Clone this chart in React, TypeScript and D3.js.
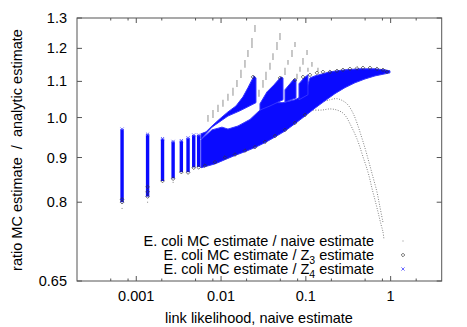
import React from "react";
import * as d3 from "d3";

const W = 467;
const H = 327;
const PLOT = { left: 77, right: 441.7, top: 18, bottom: 281 };

// ---------- axes ----------
const xDomain = [0.0002, 4];
const yDomain = [0.65, 1.3];
const xMajorTicks = [0.001, 0.01, 0.1, 1];
const xMajorLabels = ["0.001", "0.01", "0.1", "1"];
const xMinorTicks = [0.0005, 0.0008, 0.002, 0.005, 0.008, 0.02, 0.05, 0.08, 0.2, 0.5, 0.8, 2];
const yTicks = [0.65, 0.8, 0.9, 1.0, 1.1, 1.2, 1.3];
const yTickLabels = ["0.65", "0.8", "0.9", "1.0", "1.1", "1.2", "1.3"];

// ---------- series: E. coli MC / Z4 (blue x) ----------
// discrete columns at small likelihood
const z4ColX = [0.00068, 0.00136, 0.00204, 0.00272, 0.0034, 0.00408, 0.00476, 0.00544];
const z4ColLo = [0.8, 0.812, 0.846, 0.852, 0.866, 0.866, 0.877, 0.878];
const z4ColHi = [0.97, 0.957, 0.946, 0.939, 0.941, 0.948, 0.955, 0.955];
// dense region outlines (x, ratio)
const z4BandLow: [number, number][] = [
  [0.0058, 0.943], [0.00781, 0.968], [0.01025, 0.975], [0.01206, 0.97], [0.01583, 0.978],
  [0.02193, 0.995], [0.02725, 1.015], [0.03296, 1.031], [0.03987, 1.04], [0.05375, 1.04],
  [0.07447, 1.048], [0.0977, 1.062], [0.1118, 1.11], [0.128, 1.116], [0.1923, 1.128],
  [0.289, 1.134], [0.4345, 1.137], [0.653, 1.137], [0.8568, 1.134], [0.981, 1.131],
  [0.981, 1.125], [0.8568, 1.122], [0.653, 1.116], [0.4977, 1.107], [0.3793, 1.096],
  [0.289, 1.082], [0.2203, 1.065], [0.1679, 1.045], [0.128, 1.025], [0.0977, 1.004],
  [0.07447, 0.984], [0.05675, 0.965], [0.04325, 0.95], [0.03296, 0.936], [0.02512, 0.924],
  [0.01914, 0.914], [0.01459, 0.905], [0.01112, 0.895], [0.00848, 0.885], [0.0058, 0.876],
];
const z4ToothA: [number, number][] = [
  [0.0058, 0.958], [0.00664, 0.963], [0.00781, 0.978], [0.00971, 0.997], [0.01206, 1.015],
  [0.01499, 1.031], [0.01813, 1.056], [0.02076, 1.082], [0.02445, 1.116], [0.02581, 1.11],
  [0.02581, 1.04], [0.01671, 1.018], [0.01206, 1.004], [0.00781, 0.975], [0.0058, 0.945],
];
const z4ToothB: [number, number][] = [
  [0.02877, 1.037], [0.0348, 1.07], [0.0421, 1.09], [0.0509, 1.113], [0.05375, 1.11],
  [0.05375, 1.048], [0.03776, 1.031], [0.02877, 1.02],
];
const z4ToothC: [number, number][] = [
  [0.05675, 1.076], [0.06501, 1.093], [0.0725, 1.107], [0.0765, 1.104], [0.0765, 1.053], [0.05675, 1.042],
];
const z4ToothD: [number, number][] = [
  [0.083, 1.093], [0.0951, 1.11], [0.1059, 1.119], [0.1059, 1.062], [0.083, 1.048],
];

// ---------- series: E. coli MC / Z3 (diamonds) ----------
const z3ColBottoms: [number, number][] = [
  [0.00068, 0.8], [0.00068, 0.806], [0.00136, 0.812], [0.00136, 0.822], [0.00136, 0.833],
  [0.00204, 0.846], [0.00272, 0.851], [0.0034, 0.866], [0.00408, 0.865], [0.00476, 0.876], [0.00544, 0.877],
];
const z3TopChain: [number, number][] = [
  [0.0238, 1.113], [0.04954, 1.11], [0.07447, 1.104], [0.0925, 1.113], [0.1118, 1.119],
  [0.1351, 1.125], [0.159, 1.128], [0.1923, 1.128], [0.2326, 1.131], [0.2737, 1.134],
  [0.3311, 1.137], [0.4005, 1.1385], [0.4714, 1.14], [0.5701, 1.14], [0.6894, 1.137],
  [0.8115, 1.134], [0.9046, 1.128],
];
const z3LowChain: [number, number][] = [
  [0.00646, 0.881], [0.00848, 0.889], [0.01112, 0.9], [0.01459, 0.907], [0.01914, 0.9166],
  [0.02512, 0.925], [0.03296, 0.938], [0.04325, 0.9525], [0.05675, 0.968], [0.07447, 0.986], [0.0977, 1.007],
];

// ---------- series: E. coli MC / naive (grey dots) ----------
const naiveDashX = [
  0.00701, 0.00803, 0.0092, 0.01053, 0.01206, 0.01382,
  0.02512, 0.02315, 0.02076, 0.01914, 0.01717, 0.0154,
  0.04954, 0.04566, 0.04096, 0.03776, 0.03387, 0.03122, 0.028,
  0.07447, 0.06864, 0.06157, 0.05675,
  0.1032, 0.0925, 0.0853, 0.0786,
  0.118, 0.1059, 0.1389,
];
const naiveDashLo = [
  0.989, 0.999, 1.015, 1.029, 1.045, 1.059,
  1.253, 1.201, 1.173, 1.14, 1.11, 1.084,
  1.227, 1.195, 1.164, 1.134, 1.104, 1.082, 1.056,
  1.204, 1.173, 1.149, 1.119,
  1.179, 1.149, 1.128, 1.107,
  1.143, 1.128, 1.128,
];
const naiveDashHi = [
  1.007, 1.02, 1.034, 1.048, 1.065, 1.082,
  1.276, 1.233, 1.195, 1.164, 1.134, 1.104,
  1.25, 1.22, 1.185, 1.155, 1.128, 1.104, 1.076,
  1.22, 1.195, 1.164, 1.14,
  1.195, 1.17, 1.143, 1.122,
  1.158, 1.14, 1.14,
];
const naiveArcUpper: [number, number][] = [
  [0.1548, 1.042], [0.1923, 1.048], [0.2326, 1.051], [0.2737, 1.045], [0.3136, 1.034],
  [0.3593, 1.012], [0.4005, 0.986], [0.4465, 0.955], [0.4977, 0.923], [0.5548, 0.889],
  [0.6185, 0.855], [0.6894, 0.822], [0.748, 0.79], [0.8115, 0.759],
];
const naiveArcLower: [number, number][] = [
  [0.1212, 1.02], [0.1548, 1.02], [0.1923, 1.023], [0.2326, 1.02], [0.2737, 1.012],
  [0.3051, 0.999], [0.3311, 0.984], [0.3691, 0.963], [0.4005, 0.9455], [0.4345, 0.925],
  [0.4714, 0.902], [0.5114, 0.881], [0.5548, 0.858], [0.6019, 0.83], [0.653, 0.805],
  [0.7085, 0.78], [0.7686, 0.755], [0.8115, 0.74], [0.8339, 0.725],
];
const naiveLoose: [number, number][] = [
  [0.00068, 0.787], [0.00136, 0.8], [0.00272, 0.843],
];

const legendLabels = [
  "E. coli MC estimate / naive estimate",
  "E. coli MC estimate / Z",
  "E. coli MC estimate / Z",
];
const legendSubs = ["", "3", "4"];

const BLUE = "#0a0aff";
const FRAME = "#555";
const FONT = "'Liberation Sans', Arial, Helvetica, sans-serif";

export default function App() {
  const xs = d3.scaleLog().domain(xDomain).range([PLOT.left, PLOT.right]);
  const ys = d3.scaleLog().domain(yDomain).range([PLOT.bottom, PLOT.top]);
  const poly = d3
    .line<[number, number]>()
    .x((d) => xs(d[0]))
    .y((d) => ys(d[1]));
  const curve = d3
    .line<[number, number]>()
    .x((d) => xs(d[0]))
    .y((d) => ys(d[1]))
    .curve(d3.curveCatmullRom);

  const diamond = (x: number, y: number, r = 1.8) =>
    `M${x},${y - r}L${x + r},${y}L${x},${y + r}L${x - r},${y}Z`;
  const cross = (x: number, y: number, r = 1.6) =>
    `M${x - r},${y - r}L${x + r},${y + r}M${x - r},${y + r}L${x + r},${y - r}`;

  const bands = [z4BandLow, z4ToothA, z4ToothB, z4ToothC, z4ToothD];
  const z3All = [...z3ColBottoms, ...z3TopChain, ...z3LowChain];

  return (
    <svg
      width={W}
      height={H}
      style={{ position: "absolute", left: 0, top: 0, background: "#fff" }}
      fontFamily={FONT}
    >
      <rect x={0} y={0} width={W} height={H} fill="#fff" />
      <defs>
        <clipPath id="plotclip">
          <rect x={PLOT.left} y={PLOT.top} width={PLOT.right - PLOT.left} height={PLOT.bottom - PLOT.top} />
        </clipPath>
      </defs>

      <g clipPath="url(#plotclip)">
        {/* naive series */}
        {naiveDashX.map((x, i) => (
          <line
            key={"nd" + i}
            x1={xs(x)}
            x2={xs(x)}
            y1={ys(naiveDashLo[i])}
            y2={ys(naiveDashHi[i])}
            stroke="#9a9a9a"
            strokeWidth={1.1}
          />
        ))}
        {[naiveArcUpper, naiveArcLower].map((arc, i) => (
          <path
            key={"na" + i}
            d={curve(arc) || ""}
            fill="none"
            stroke="#666"
            strokeWidth={0.9}
            strokeDasharray="0.9 1.6"
          />
        ))}
        {naiveLoose.map((p, i) => (
          <rect key={"nl" + i} x={xs(p[0]) - 0.5} y={ys(p[1]) - 0.5} width={1} height={1} fill="#888" />
        ))}

        {/* Z4 series */}
        {bands.map((b, i) => (
          <path key={"b" + i} d={(poly(b) || "") + "Z"} fill={BLUE} stroke="#3434ff" strokeWidth={1} />
        ))}
        {z4ColX.map((x, i) => (
          <rect
            key={"c" + i}
            x={xs(x) - 1.7}
            width={3.4}
            y={ys(z4ColHi[i])}
            height={ys(z4ColLo[i]) - ys(z4ColHi[i])}
            fill={BLUE}
          />
        ))}
        {z4ColX.map((x, i) => (
          <path key={"cx" + i} d={cross(xs(x), ys(z4ColHi[i]))} stroke="#5a5aff" strokeWidth={0.9} fill="none" />
        ))}

        {/* Z3 series */}
        {z3All.map((p, i) => (
          <path key={"z3" + i} d={diamond(xs(p[0]), ys(p[1]))} fill="none" stroke="#333" strokeWidth={0.7} />
        ))}
      </g>

      {/* frame */}
      <rect
        x={PLOT.left}
        y={PLOT.top}
        width={PLOT.right - PLOT.left}
        height={PLOT.bottom - PLOT.top}
        fill="none"
        stroke={FRAME}
        strokeWidth={1}
      />

      {/* x ticks */}
      {xMajorTicks.map((t, i) => (
        <g key={"xm" + i}>
          <line x1={xs(t)} x2={xs(t)} y1={PLOT.bottom} y2={PLOT.bottom - 5} stroke={FRAME} />
          <line x1={xs(t)} x2={xs(t)} y1={PLOT.top} y2={PLOT.top + 5} stroke={FRAME} />
          <text x={xs(t)} y={301} textAnchor="middle" fontSize={14.5} fill="#000">
            {xMajorLabels[i]}
          </text>
        </g>
      ))}
      {xMinorTicks.map((t, i) => (
        <g key={"xn" + i}>
          <line x1={xs(t)} x2={xs(t)} y1={PLOT.bottom} y2={PLOT.bottom - 2.5} stroke={FRAME} />
          <line x1={xs(t)} x2={xs(t)} y1={PLOT.top} y2={PLOT.top + 2.5} stroke={FRAME} />
        </g>
      ))}

      {/* y ticks */}
      {yTicks.map((t, i) => (
        <g key={"y" + i}>
          <line x1={PLOT.left} x2={PLOT.left + 5} y1={ys(t)} y2={ys(t)} stroke={FRAME} />
          <line x1={PLOT.right} x2={PLOT.right - 5} y1={ys(t)} y2={ys(t)} stroke={FRAME} />
          <text x={67} y={ys(t) + 5} textAnchor="end" fontSize={14.5} fill="#000">
            {yTickLabels[i]}
          </text>
        </g>
      ))}

      {/* axis titles */}
      <text x={259} y={323} textAnchor="middle" fontSize={14.5} fill="#000">
        link likelihood, naive estimate
      </text>
      <text
        transform={`translate(22,150) rotate(-90)`}
        textAnchor="middle"
        fontSize={14.5}
        fill="#000"
        style={{ whiteSpace: "pre" }}
      >
        {"ratio MC estimate  /  analytic estimate"}
      </text>

      {/* legend */}
      {legendLabels.map((lab, i) => {
        const yb = 246 + i * 13.8;
        return (
          <g key={"lg" + i}>
            <text x={374} y={yb} textAnchor="end" fontSize={14.5} fill="#000">
              {lab}
              {legendSubs[i] ? (
                <>
                  <tspan dy={4} fontSize={10.5}>
                    {legendSubs[i]}
                  </tspan>
                  <tspan dy={-4}>{" estimate"}</tspan>
                </>
              ) : null}
            </text>
          </g>
        );
      })}
      <rect x={402.5} y={240.5} width={1} height={1} fill="#888" />
      <path d={diamond(403, 255)} fill="none" stroke="#333" strokeWidth={0.7} />
      <path d={cross(403, 269)} fill="none" stroke="#5a5aff" strokeWidth={0.9} />
    </svg>
  );
}
